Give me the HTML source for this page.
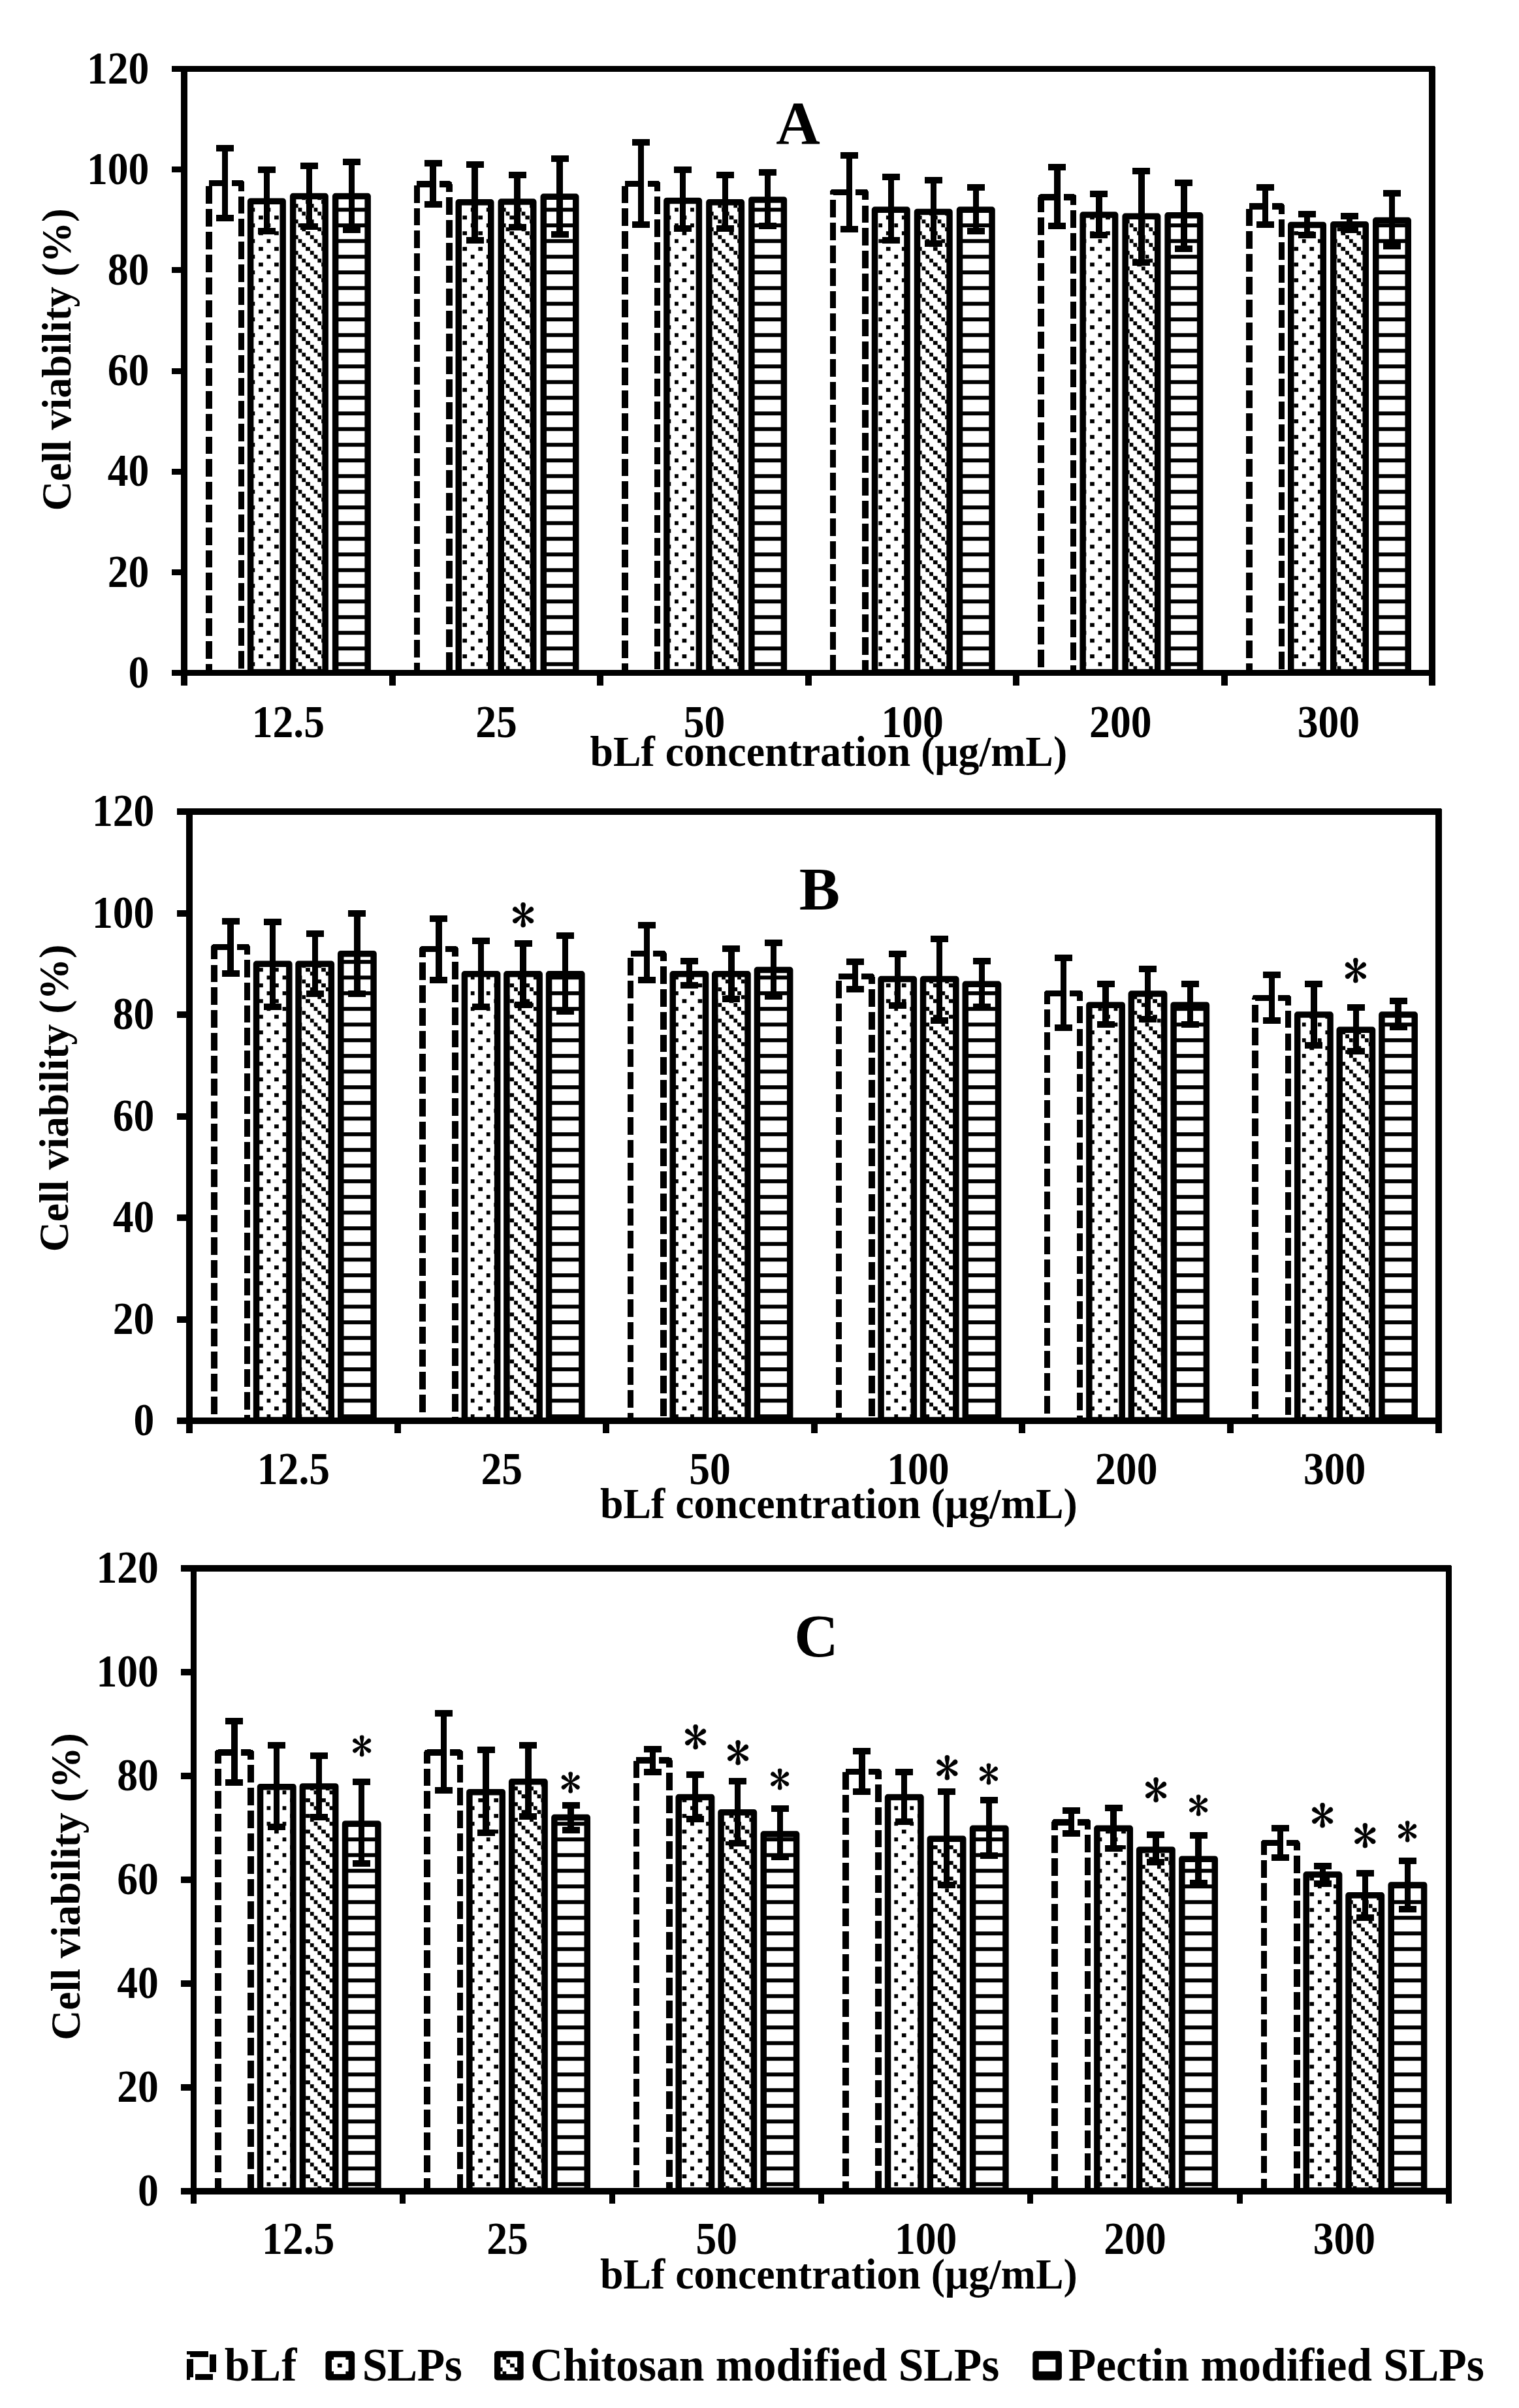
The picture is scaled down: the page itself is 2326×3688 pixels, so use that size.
<!DOCTYPE html>
<html lang="en"><head><meta charset="utf-8"><title>Cell viability vs bLf concentration</title>
<style>
html,body{margin:0;padding:0;background:#fff;}
svg{display:block;}
text{font-family:"Liberation Serif", serif;font-weight:bold;fill:#000;}
.ast{font-family:"IPAGothic", "Liberation Serif", serif;font-weight:normal;stroke:#000;stroke-width:0.9px;}
.ln{stroke:#000;fill:none;shape-rendering:crispEdges;}
.bar{stroke:#000;stroke-linejoin:round;}
</style></head><body>
<svg width="2326" height="3688" viewBox="0 0 2326 3688">
<defs>
<pattern id="pd" patternUnits="userSpaceOnUse" x="0.2" y="0.2" width="24.02" height="24"><rect width="25" height="24" fill="#fff"/><g fill="#000" shape-rendering="crispEdges"><rect x="0" y="6" width="6" height="6"/><rect x="12" y="18" width="6" height="6"/></g></pattern>
<pattern id="pg" patternUnits="userSpaceOnUse" x="0.2" y="0.2" width="24.02" height="24"><rect width="25" height="24" fill="#fff"/><g fill="#000" shape-rendering="crispEdges"><rect x="0" y="6" width="6" height="6"/><rect x="6" y="12" width="6" height="6"/><rect x="12" y="18" width="6" height="6"/><rect x="18" y="0" width="6.1" height="6"/></g></pattern>
<pattern id="ph" patternUnits="userSpaceOnUse" x="0.2" y="0.2" width="24.02" height="24"><rect width="25" height="24" fill="#fff"/><rect x="0" y="6" width="25" height="6" fill="#000" shape-rendering="crispEdges"/></pattern>
<pattern id="pdL" patternUnits="userSpaceOnUse" x="0.9" y="1.9" width="24.02" height="24"><rect width="25" height="24" fill="#fff"/><g fill="#000" shape-rendering="crispEdges"><rect x="0" y="6" width="6" height="6"/><rect x="12" y="18" width="6" height="6"/></g></pattern>
<pattern id="pgL" patternUnits="userSpaceOnUse" x="0.9" y="1.9" width="24.02" height="24"><rect width="25" height="24" fill="#fff"/><g fill="#000" shape-rendering="crispEdges"><rect x="0" y="6" width="6" height="6"/><rect x="6" y="12" width="6" height="6"/><rect x="12" y="18" width="6" height="6"/><rect x="18" y="0" width="6.1" height="6"/></g></pattern>
<pattern id="phL" patternUnits="userSpaceOnUse" x="0.9" y="1.9" width="24.02" height="24"><rect width="25" height="24" fill="#fff"/><rect x="0" y="6" width="25" height="6" fill="#000" shape-rendering="crispEdges"/></pattern>
</defs>
<rect width="2326" height="3688" fill="#fff"/>
<g id="panelA">
<rect class="ln" x="319.75" y="280.48" width="49.5" height="750.02" stroke-width="9.5" stroke-dasharray="26.8 8.03" stroke-linejoin="round"/>
<rect class="bar" x="383.65" y="308.23" width="49.5" height="721.27" fill="url(#pd)" stroke-width="9.5"/>
<rect class="bar" x="448.65" y="300.52" width="49.5" height="728.98" fill="url(#pg)" stroke-width="9.5"/>
<rect class="bar" x="513.65" y="300.52" width="49.5" height="728.98" fill="url(#ph)" stroke-width="9.5"/>
<path class="ln" stroke-width="9.4" d="M344.5 227.29V333.67"/><path class="ln" stroke-width="10" d="M331 227.29H358M331 333.67H358"/>
<path class="ln" stroke-width="9.4" d="M408.4 260.44V353.71"/><path class="ln" stroke-width="10" d="M394.9 260.44H421.9M394.9 353.71H421.9"/>
<path class="ln" stroke-width="9.4" d="M473.4 253.5V346.77"/><path class="ln" stroke-width="10" d="M459.9 253.5H486.9M459.9 346.77H486.9"/>
<path class="ln" stroke-width="9.4" d="M538.4 248.1V352.17"/><path class="ln" stroke-width="10" d="M524.9 248.1H551.9M524.9 352.17H551.9"/>
<rect class="ln" x="638.37" y="282.02" width="49.5" height="748.48" stroke-width="9.5" stroke-dasharray="26.8 8.03" stroke-linejoin="round"/>
<rect class="bar" x="702.27" y="309.77" width="49.5" height="719.73" fill="url(#pd)" stroke-width="9.5"/>
<rect class="bar" x="767.27" y="309" width="49.5" height="720.5" fill="url(#pg)" stroke-width="9.5"/>
<rect class="bar" x="832.27" y="301.29" width="49.5" height="728.21" fill="url(#ph)" stroke-width="9.5"/>
<path class="ln" stroke-width="9.4" d="M663.12 250.42V312.85"/><path class="ln" stroke-width="10" d="M649.62 250.42H676.62M649.62 312.85H676.62"/>
<path class="ln" stroke-width="9.4" d="M727.02 251.96V368.35"/><path class="ln" stroke-width="10" d="M713.52 251.96H740.52M713.52 368.35H740.52"/>
<path class="ln" stroke-width="9.4" d="M792.02 268.15V348.31"/><path class="ln" stroke-width="10" d="M778.52 268.15H805.52M778.52 348.31H805.52"/>
<path class="ln" stroke-width="9.4" d="M857.02 243.48V359.1"/><path class="ln" stroke-width="10" d="M843.52 243.48H870.52M843.52 359.1H870.52"/>
<rect class="ln" x="956.99" y="281.25" width="49.5" height="749.25" stroke-width="9.5" stroke-dasharray="26.8 8.03" stroke-linejoin="round"/>
<rect class="bar" x="1020.89" y="307.46" width="49.5" height="722.04" fill="url(#pd)" stroke-width="9.5"/>
<rect class="bar" x="1085.89" y="309.77" width="49.5" height="719.73" fill="url(#pg)" stroke-width="9.5"/>
<rect class="bar" x="1150.89" y="305.92" width="49.5" height="723.58" fill="url(#ph)" stroke-width="9.5"/>
<path class="ln" stroke-width="9.4" d="M981.74 218.04V343.69"/><path class="ln" stroke-width="10" d="M968.24 218.04H995.24M968.24 343.69H995.24"/>
<path class="ln" stroke-width="9.4" d="M1045.64 260.44V349.85"/><path class="ln" stroke-width="10" d="M1032.14 260.44H1059.14M1032.14 349.85H1059.14"/>
<path class="ln" stroke-width="9.4" d="M1110.64 268.15V349.85"/><path class="ln" stroke-width="10" d="M1097.14 268.15H1124.14M1097.14 349.85H1124.14"/>
<path class="ln" stroke-width="9.4" d="M1175.64 264.29V346"/><path class="ln" stroke-width="10" d="M1162.14 264.29H1189.14M1162.14 346H1189.14"/>
<rect class="ln" x="1275.61" y="294.35" width="49.5" height="736.15" stroke-width="9.5" stroke-dasharray="26.8 8.03" stroke-linejoin="round"/>
<rect class="bar" x="1339.51" y="321.33" width="49.5" height="708.17" fill="url(#pd)" stroke-width="9.5"/>
<rect class="bar" x="1404.51" y="324.42" width="49.5" height="705.08" fill="url(#pg)" stroke-width="9.5"/>
<rect class="bar" x="1469.51" y="321.33" width="49.5" height="708.17" fill="url(#ph)" stroke-width="9.5"/>
<path class="ln" stroke-width="9.4" d="M1300.36 238.08V351.4"/><path class="ln" stroke-width="10" d="M1286.86 238.08H1313.86M1286.86 351.4H1313.86"/>
<path class="ln" stroke-width="9.4" d="M1364.26 271.23V368.35"/><path class="ln" stroke-width="10" d="M1350.76 271.23H1377.76M1350.76 368.35H1377.76"/>
<path class="ln" stroke-width="9.4" d="M1429.26 275.85V372.98"/><path class="ln" stroke-width="10" d="M1415.76 275.85H1442.76M1415.76 372.98H1442.76"/>
<path class="ln" stroke-width="9.4" d="M1494.26 286.65V354.48"/><path class="ln" stroke-width="10" d="M1480.76 286.65H1507.76M1480.76 354.48H1507.76"/>
<rect class="ln" x="1594.23" y="302.06" width="49.5" height="728.44" stroke-width="9.5" stroke-dasharray="26.8 8.03" stroke-linejoin="round"/>
<rect class="bar" x="1658.13" y="329.04" width="49.5" height="700.46" fill="url(#pd)" stroke-width="9.5"/>
<rect class="bar" x="1723.13" y="331.35" width="49.5" height="698.15" fill="url(#pg)" stroke-width="9.5"/>
<rect class="bar" x="1788.13" y="329.81" width="49.5" height="699.69" fill="url(#ph)" stroke-width="9.5"/>
<path class="ln" stroke-width="9.4" d="M1618.98 255.81V346"/><path class="ln" stroke-width="10" d="M1605.48 255.81H1632.48M1605.48 346H1632.48"/>
<path class="ln" stroke-width="9.4" d="M1682.88 296.67V359.88"/><path class="ln" stroke-width="10" d="M1669.38 296.67H1696.38M1669.38 359.88H1696.38"/>
<path class="ln" stroke-width="9.4" d="M1747.88 261.98V401.5"/><path class="ln" stroke-width="10" d="M1734.38 261.98H1761.38M1734.38 401.5H1761.38"/>
<path class="ln" stroke-width="9.4" d="M1812.88 279.71V380.69"/><path class="ln" stroke-width="10" d="M1799.38 279.71H1826.38M1799.38 380.69H1826.38"/>
<rect class="ln" x="1912.85" y="315.94" width="49.5" height="714.56" stroke-width="9.5" stroke-dasharray="26.8 8.03" stroke-linejoin="round"/>
<rect class="bar" x="1976.75" y="344.46" width="49.5" height="685.04" fill="url(#pd)" stroke-width="9.5"/>
<rect class="bar" x="2041.75" y="343.69" width="49.5" height="685.81" fill="url(#pg)" stroke-width="9.5"/>
<rect class="bar" x="2106.75" y="337.52" width="49.5" height="691.98" fill="url(#ph)" stroke-width="9.5"/>
<path class="ln" stroke-width="9.4" d="M1937.6 286.65V344.46"/><path class="ln" stroke-width="10" d="M1924.1 286.65H1951.1M1924.1 344.46H1951.1"/>
<path class="ln" stroke-width="9.4" d="M2001.5 328.27V359.88"/><path class="ln" stroke-width="10" d="M1988 328.27H2015M1988 359.88H2015"/>
<path class="ln" stroke-width="9.4" d="M2066.5 331.35V352.17"/><path class="ln" stroke-width="10" d="M2053 331.35H2080M2053 352.17H2080"/>
<path class="ln" stroke-width="9.4" d="M2131.5 295.9V376.83"/><path class="ln" stroke-width="10" d="M2118 295.9H2145M2118 376.83H2145"/>
<path class="ln" stroke-width="10" d="M282 101V1050M2193 102V1050"/>
<path class="ln" stroke-width="9" d="M262.5 105.5H2197M262.5 1030.5H2193"/>
<path class="ln" stroke-width="9" d="M262.5 876.33H282M262.5 722.17H282M262.5 568H282M262.5 413.83H282M262.5 259.67H282"/>
<path class="ln" stroke-width="10" d="M600.62 1030.5V1050M919.24 1030.5V1050M1237.86 1030.5V1050M1556.48 1030.5V1050M1875.1 1030.5V1050"/>
<text transform="translate(228.4 1052.7) scale(1 1.08)" font-size="63.6" text-anchor="end">0</text>
<text transform="translate(228.4 898.53) scale(1 1.08)" font-size="63.6" text-anchor="end">20</text>
<text transform="translate(228.4 744.37) scale(1 1.08)" font-size="63.6" text-anchor="end">40</text>
<text transform="translate(228.4 590.2) scale(1 1.08)" font-size="63.6" text-anchor="end">60</text>
<text transform="translate(228.4 436.03) scale(1 1.08)" font-size="63.6" text-anchor="end">80</text>
<text transform="translate(228.4 281.87) scale(1 1.08)" font-size="63.6" text-anchor="end">100</text>
<text transform="translate(228.4 127.7) scale(1 1.08)" font-size="63.6" text-anchor="end">120</text>
<text transform="translate(441.31 1129.2) scale(1 1.08)" font-size="63.6" text-anchor="middle">12.5</text>
<text transform="translate(759.93 1129.2) scale(1 1.08)" font-size="63.6" text-anchor="middle">25</text>
<text transform="translate(1078.55 1129.2) scale(1 1.08)" font-size="63.6" text-anchor="middle">50</text>
<text transform="translate(1397.17 1129.2) scale(1 1.08)" font-size="63.6" text-anchor="middle">100</text>
<text transform="translate(1715.79 1129.2) scale(1 1.08)" font-size="63.6" text-anchor="middle">200</text>
<text transform="translate(2034.41 1129.2) scale(1 1.08)" font-size="63.6" text-anchor="middle">300</text>
<text transform="translate(903.4 1172.7) scale(1 1.02)" font-size="63.8">bLf concentration (μg/mL)</text>
<text transform="translate(108 550.6) rotate(-90)" font-size="62.7" text-anchor="middle">Cell viability (%)</text>
<text x="1188.3" y="220" font-size="93.5">A</text>
</g>
<g id="panelB">
<rect class="ln" x="327.95" y="1450.59" width="50.3" height="725.41" stroke-width="9.5" stroke-dasharray="26.8 8.03" stroke-linejoin="round"/>
<rect class="bar" x="392.55" y="1476.25" width="50.3" height="698.75" fill="url(#pd)" stroke-width="9.5"/>
<rect class="bar" x="457.05" y="1476.25" width="50.3" height="698.75" fill="url(#pg)" stroke-width="9.5"/>
<rect class="bar" x="521.75" y="1460.7" width="50.3" height="714.3" fill="url(#ph)" stroke-width="9.5"/>
<path class="ln" stroke-width="9.4" d="M353.1 1410.94V1491.02"/><path class="ln" stroke-width="10" d="M339.6 1410.94H366.6M339.6 1491.02H366.6"/>
<path class="ln" stroke-width="9.4" d="M417.7 1411.72V1541.56"/><path class="ln" stroke-width="10" d="M404.2 1411.72H431.2M404.2 1541.56H431.2"/>
<path class="ln" stroke-width="9.4" d="M482.2 1429.6V1522.12"/><path class="ln" stroke-width="10" d="M468.7 1429.6H495.7M468.7 1522.12H495.7"/>
<path class="ln" stroke-width="9.4" d="M546.9 1398.5V1522.12"/><path class="ln" stroke-width="10" d="M533.4 1398.5H560.4M533.4 1522.12H560.4"/>
<rect class="ln" x="646.78" y="1453.7" width="50.3" height="722.3" stroke-width="9.5" stroke-dasharray="26.8 8.03" stroke-linejoin="round"/>
<rect class="bar" x="711.38" y="1491.8" width="50.3" height="683.2" fill="url(#pd)" stroke-width="9.5"/>
<rect class="bar" x="775.88" y="1491.8" width="50.3" height="683.2" fill="url(#pg)" stroke-width="9.5"/>
<rect class="bar" x="840.58" y="1491.8" width="50.3" height="683.2" fill="url(#ph)" stroke-width="9.5"/>
<path class="ln" stroke-width="9.4" d="M671.93 1407.05V1501.13"/><path class="ln" stroke-width="10" d="M658.43 1407.05H685.43M658.43 1501.13H685.43"/>
<path class="ln" stroke-width="9.4" d="M736.53 1441.26V1541.56"/><path class="ln" stroke-width="10" d="M723.03 1441.26H750.03M723.03 1541.56H750.03"/>
<path class="ln" stroke-width="9.4" d="M801.03 1445.15V1539.23"/><path class="ln" stroke-width="10" d="M787.53 1445.15H814.53M787.53 1539.23H814.53"/>
<path class="ln" stroke-width="9.4" d="M865.73 1433.49V1549.34"/><path class="ln" stroke-width="10" d="M852.23 1433.49H879.23M852.23 1549.34H879.23"/>
<rect class="ln" x="965.62" y="1460.7" width="50.3" height="715.3" stroke-width="9.5" stroke-dasharray="26.8 8.03" stroke-linejoin="round"/>
<rect class="bar" x="1030.22" y="1491.8" width="50.3" height="683.2" fill="url(#pd)" stroke-width="9.5"/>
<rect class="bar" x="1094.72" y="1491.8" width="50.3" height="683.2" fill="url(#pg)" stroke-width="9.5"/>
<rect class="bar" x="1159.42" y="1485.58" width="50.3" height="689.42" fill="url(#ph)" stroke-width="9.5"/>
<path class="ln" stroke-width="9.4" d="M990.77 1417.16V1501.13"/><path class="ln" stroke-width="10" d="M977.27 1417.16H1004.27M977.27 1501.13H1004.27"/>
<path class="ln" stroke-width="9.4" d="M1055.37 1472.36V1508.9"/><path class="ln" stroke-width="10" d="M1041.87 1472.36H1068.87M1041.87 1508.9H1068.87"/>
<path class="ln" stroke-width="9.4" d="M1119.87 1452.92V1529.9"/><path class="ln" stroke-width="10" d="M1106.37 1452.92H1133.37M1106.37 1529.9H1133.37"/>
<path class="ln" stroke-width="9.4" d="M1184.57 1443.59V1526.01"/><path class="ln" stroke-width="10" d="M1171.07 1443.59H1198.07M1171.07 1526.01H1198.07"/>
<rect class="ln" x="1284.45" y="1495.69" width="50.3" height="680.31" stroke-width="9.5" stroke-dasharray="26.8 8.03" stroke-linejoin="round"/>
<rect class="bar" x="1349.05" y="1499.57" width="50.3" height="675.43" fill="url(#pd)" stroke-width="9.5"/>
<rect class="bar" x="1413.55" y="1499.57" width="50.3" height="675.43" fill="url(#pg)" stroke-width="9.5"/>
<rect class="bar" x="1478.25" y="1507.35" width="50.3" height="667.65" fill="url(#ph)" stroke-width="9.5"/>
<path class="ln" stroke-width="9.4" d="M1309.6 1473.14V1515.12"/><path class="ln" stroke-width="10" d="M1296.1 1473.14H1323.1M1296.1 1515.12H1323.1"/>
<path class="ln" stroke-width="9.4" d="M1374.2 1461.48V1540.01"/><path class="ln" stroke-width="10" d="M1360.7 1461.48H1387.7M1360.7 1540.01H1387.7"/>
<path class="ln" stroke-width="9.4" d="M1438.7 1438.15V1562.55"/><path class="ln" stroke-width="10" d="M1425.2 1438.15H1452.2M1425.2 1562.55H1452.2"/>
<path class="ln" stroke-width="9.4" d="M1503.4 1471.59V1542.34"/><path class="ln" stroke-width="10" d="M1489.9 1471.59H1516.9M1489.9 1542.34H1516.9"/>
<rect class="ln" x="1603.28" y="1521.34" width="50.3" height="654.66" stroke-width="9.5" stroke-dasharray="26.8 8.03" stroke-linejoin="round"/>
<rect class="bar" x="1667.88" y="1539.23" width="50.3" height="635.77" fill="url(#pd)" stroke-width="9.5"/>
<rect class="bar" x="1732.38" y="1522.12" width="50.3" height="652.88" fill="url(#pg)" stroke-width="9.5"/>
<rect class="bar" x="1797.08" y="1539.23" width="50.3" height="635.77" fill="url(#ph)" stroke-width="9.5"/>
<path class="ln" stroke-width="9.4" d="M1628.43 1466.92V1574.21"/><path class="ln" stroke-width="10" d="M1614.93 1466.92H1641.93M1614.93 1574.21H1641.93"/>
<path class="ln" stroke-width="9.4" d="M1693.03 1506.57V1568.77"/><path class="ln" stroke-width="10" d="M1679.53 1506.57H1706.53M1679.53 1568.77H1706.53"/>
<path class="ln" stroke-width="9.4" d="M1757.53 1484.03V1561"/><path class="ln" stroke-width="10" d="M1744.03 1484.03H1771.03M1744.03 1561H1771.03"/>
<path class="ln" stroke-width="9.4" d="M1822.23 1506.57V1568.77"/><path class="ln" stroke-width="10" d="M1808.73 1506.57H1835.73M1808.73 1568.77H1835.73"/>
<rect class="ln" x="1922.12" y="1528.34" width="50.3" height="647.66" stroke-width="9.5" stroke-dasharray="26.8 8.03" stroke-linejoin="round"/>
<rect class="bar" x="1986.72" y="1554" width="50.3" height="621" fill="url(#pd)" stroke-width="9.5"/>
<rect class="bar" x="2051.22" y="1577.32" width="50.3" height="597.68" fill="url(#pg)" stroke-width="9.5"/>
<rect class="bar" x="2115.92" y="1554" width="50.3" height="621" fill="url(#ph)" stroke-width="9.5"/>
<path class="ln" stroke-width="9.4" d="M1947.27 1493.36V1563.33"/><path class="ln" stroke-width="10" d="M1933.77 1493.36H1960.77M1933.77 1563.33H1960.77"/>
<path class="ln" stroke-width="9.4" d="M2011.87 1507.35V1600.65"/><path class="ln" stroke-width="10" d="M1998.37 1507.35H2025.37M1998.37 1600.65H2025.37"/>
<path class="ln" stroke-width="9.4" d="M2076.37 1543.11V1609.98"/><path class="ln" stroke-width="10" d="M2062.87 1543.11H2089.87M2062.87 1609.98H2089.87"/>
<path class="ln" stroke-width="9.4" d="M2141.07 1533.01V1572.66"/><path class="ln" stroke-width="10" d="M2127.57 1533.01H2154.57M2127.57 1572.66H2154.57"/>
<path class="ln" stroke-width="10" d="M290 1238V2195M2203 1239V2195"/>
<path class="ln" stroke-width="10" d="M271 1243H2207M271 2176H2203"/>
<path class="ln" stroke-width="10" d="M271 2020.5H290M271 1865H290M271 1709.5H290M271 1554H290M271 1398.5H290"/>
<path class="ln" stroke-width="10" d="M608.83 2176V2195M927.67 2176V2195M1246.5 2176V2195M1565.33 2176V2195M1884.17 2176V2195"/>
<text transform="translate(236.4 2198.2) scale(1 1.08)" font-size="63.6" text-anchor="end">0</text>
<text transform="translate(236.4 2042.7) scale(1 1.08)" font-size="63.6" text-anchor="end">20</text>
<text transform="translate(236.4 1887.2) scale(1 1.08)" font-size="63.6" text-anchor="end">40</text>
<text transform="translate(236.4 1731.7) scale(1 1.08)" font-size="63.6" text-anchor="end">60</text>
<text transform="translate(236.4 1576.2) scale(1 1.08)" font-size="63.6" text-anchor="end">80</text>
<text transform="translate(236.4 1420.7) scale(1 1.08)" font-size="63.6" text-anchor="end">100</text>
<text transform="translate(236.4 1265.2) scale(1 1.08)" font-size="63.6" text-anchor="end">120</text>
<text transform="translate(449.42 2273.2) scale(1 1.08)" font-size="63.6" text-anchor="middle">12.5</text>
<text transform="translate(768.25 2273.2) scale(1 1.08)" font-size="63.6" text-anchor="middle">25</text>
<text transform="translate(1087.08 2273.2) scale(1 1.08)" font-size="63.6" text-anchor="middle">50</text>
<text transform="translate(1405.92 2273.2) scale(1 1.08)" font-size="63.6" text-anchor="middle">100</text>
<text transform="translate(1724.75 2273.2) scale(1 1.08)" font-size="63.6" text-anchor="middle">200</text>
<text transform="translate(2043.58 2273.2) scale(1 1.08)" font-size="63.6" text-anchor="middle">300</text>
<text transform="translate(919 2324.9) scale(1 1.02)" font-size="63.8">bLf concentration (μg/mL)</text>
<text transform="translate(104.2 1681.9) rotate(-90)" font-size="63.7" text-anchor="middle">Cell viability (%)</text>
<text x="1223.8" y="1392.9" font-size="93.5">B</text>
<text class="ast" x="801.05" y="1429.89" font-size="74.6" text-anchor="middle">*</text>
<text class="ast" x="2075.9" y="1514.99" font-size="74.6" text-anchor="middle">*</text>
</g>
<g id="panelC">
<rect class="ln" x="333.75" y="2684.22" width="50.4" height="671.78" stroke-width="9.5" stroke-dasharray="26.8 8.03" stroke-linejoin="round"/>
<rect class="bar" x="398.55" y="2736.69" width="50.4" height="618.31" fill="url(#pd)" stroke-width="9.5"/>
<rect class="bar" x="463.35" y="2735.9" width="50.4" height="619.1" fill="url(#pg)" stroke-width="9.5"/>
<rect class="bar" x="528.55" y="2793.14" width="50.4" height="561.86" fill="url(#ph)" stroke-width="9.5"/>
<path class="ln" stroke-width="9.4" d="M358.95 2635.73V2730.34"/><path class="ln" stroke-width="10" d="M345.45 2635.73H372.45M345.45 2730.34H372.45"/>
<path class="ln" stroke-width="9.4" d="M423.75 2673.09V2797.91"/><path class="ln" stroke-width="10" d="M410.25 2673.09H437.25M410.25 2797.91H437.25"/>
<path class="ln" stroke-width="9.4" d="M488.55 2688.99V2782.81"/><path class="ln" stroke-width="10" d="M475.05 2688.99H502.05M475.05 2782.81H502.05"/>
<path class="ln" stroke-width="9.4" d="M553.75 2728.74V2854.36"/><path class="ln" stroke-width="10" d="M540.25 2728.74H567.25M540.25 2854.36H567.25"/>
<rect class="ln" x="654.08" y="2684.22" width="50.4" height="671.78" stroke-width="9.5" stroke-dasharray="26.8 8.03" stroke-linejoin="round"/>
<rect class="bar" x="718.88" y="2744.64" width="50.4" height="610.36" fill="url(#pd)" stroke-width="9.5"/>
<rect class="bar" x="783.68" y="2728.74" width="50.4" height="626.26" fill="url(#pg)" stroke-width="9.5"/>
<rect class="bar" x="848.88" y="2783.6" width="50.4" height="571.4" fill="url(#ph)" stroke-width="9.5"/>
<path class="ln" stroke-width="9.4" d="M679.28 2623.81V2742.26"/><path class="ln" stroke-width="10" d="M665.78 2623.81H692.78M665.78 2742.26H692.78"/>
<path class="ln" stroke-width="9.4" d="M744.08 2680.25V2807.45"/><path class="ln" stroke-width="10" d="M730.58 2680.25H757.58M730.58 2807.45H757.58"/>
<path class="ln" stroke-width="9.4" d="M808.88 2673.09V2782.01"/><path class="ln" stroke-width="10" d="M795.38 2673.09H822.38M795.38 2782.01H822.38"/>
<path class="ln" stroke-width="9.4" d="M874.08 2765.32V2802.68"/><path class="ln" stroke-width="10" d="M860.58 2765.32H887.58M860.58 2802.68H887.58"/>
<rect class="ln" x="974.42" y="2696.15" width="50.4" height="659.85" stroke-width="9.5" stroke-dasharray="26.8 8.03" stroke-linejoin="round"/>
<rect class="bar" x="1039.22" y="2752.59" width="50.4" height="602.41" fill="url(#pd)" stroke-width="9.5"/>
<rect class="bar" x="1104.02" y="2775.65" width="50.4" height="579.35" fill="url(#pg)" stroke-width="9.5"/>
<rect class="bar" x="1169.22" y="2809.04" width="50.4" height="545.96" fill="url(#ph)" stroke-width="9.5"/>
<path class="ln" stroke-width="9.4" d="M999.62 2678.66V2713.64"/><path class="ln" stroke-width="10" d="M986.12 2678.66H1013.12M986.12 2713.64H1013.12"/>
<path class="ln" stroke-width="9.4" d="M1064.42 2717.61V2785.99"/><path class="ln" stroke-width="10" d="M1050.92 2717.61H1077.92M1050.92 2785.99H1077.92"/>
<path class="ln" stroke-width="9.4" d="M1129.22 2727.95V2822.56"/><path class="ln" stroke-width="10" d="M1115.72 2727.95H1142.72M1115.72 2822.56H1142.72"/>
<path class="ln" stroke-width="9.4" d="M1194.42 2770.09V2844.02"/><path class="ln" stroke-width="10" d="M1180.92 2770.09H1207.92M1180.92 2844.02H1207.92"/>
<rect class="ln" x="1294.75" y="2713.64" width="50.4" height="642.36" stroke-width="9.5" stroke-dasharray="26.8 8.03" stroke-linejoin="round"/>
<rect class="bar" x="1359.55" y="2752.59" width="50.4" height="602.41" fill="url(#pd)" stroke-width="9.5"/>
<rect class="bar" x="1424.35" y="2816.19" width="50.4" height="538.81" fill="url(#pg)" stroke-width="9.5"/>
<rect class="bar" x="1489.55" y="2800.3" width="50.4" height="554.7" fill="url(#ph)" stroke-width="9.5"/>
<path class="ln" stroke-width="9.4" d="M1319.95 2681.84V2743.85"/><path class="ln" stroke-width="10" d="M1306.45 2681.84H1333.45M1306.45 2743.85H1333.45"/>
<path class="ln" stroke-width="9.4" d="M1384.75 2714.43V2789.96"/><path class="ln" stroke-width="10" d="M1371.25 2714.43H1398.25M1371.25 2789.96H1398.25"/>
<path class="ln" stroke-width="9.4" d="M1449.55 2743.85V2886.95"/><path class="ln" stroke-width="10" d="M1436.05 2743.85H1463.05M1436.05 2886.95H1463.05"/>
<path class="ln" stroke-width="9.4" d="M1514.75 2757.36V2842.43"/><path class="ln" stroke-width="10" d="M1501.25 2757.36H1528.25M1501.25 2842.43H1528.25"/>
<rect class="ln" x="1615.08" y="2790.76" width="50.4" height="565.24" stroke-width="9.5" stroke-dasharray="26.8 8.03" stroke-linejoin="round"/>
<rect class="bar" x="1679.88" y="2800.3" width="50.4" height="554.7" fill="url(#pd)" stroke-width="9.5"/>
<rect class="bar" x="1744.68" y="2832.89" width="50.4" height="522.11" fill="url(#pg)" stroke-width="9.5"/>
<rect class="bar" x="1809.88" y="2847.2" width="50.4" height="507.8" fill="url(#ph)" stroke-width="9.5"/>
<path class="ln" stroke-width="9.4" d="M1640.28 2773.26V2808.24"/><path class="ln" stroke-width="10" d="M1626.78 2773.26H1653.78M1626.78 2808.24H1653.78"/>
<path class="ln" stroke-width="9.4" d="M1705.08 2769.29V2830.51"/><path class="ln" stroke-width="10" d="M1691.58 2769.29H1718.58M1691.58 2830.51H1718.58"/>
<path class="ln" stroke-width="9.4" d="M1769.88 2809.84V2851.97"/><path class="ln" stroke-width="10" d="M1756.38 2809.84H1783.38M1756.38 2851.97H1783.38"/>
<path class="ln" stroke-width="9.4" d="M1835.08 2811.43V2883.77"/><path class="ln" stroke-width="10" d="M1821.58 2811.43H1848.58M1821.58 2883.77H1848.58"/>
<rect class="ln" x="1935.42" y="2822.56" width="50.4" height="533.44" stroke-width="9.5" stroke-dasharray="26.8 8.03" stroke-linejoin="round"/>
<rect class="bar" x="2000.22" y="2871.05" width="50.4" height="483.95" fill="url(#pd)" stroke-width="9.5"/>
<rect class="bar" x="2065.02" y="2902.85" width="50.4" height="452.15" fill="url(#pg)" stroke-width="9.5"/>
<rect class="bar" x="2130.22" y="2886.95" width="50.4" height="468.05" fill="url(#ph)" stroke-width="9.5"/>
<path class="ln" stroke-width="9.4" d="M1960.62 2799.5V2844.82"/><path class="ln" stroke-width="10" d="M1947.12 2799.5H1974.12M1947.12 2844.82H1974.12"/>
<path class="ln" stroke-width="9.4" d="M2025.42 2857.53V2885.36"/><path class="ln" stroke-width="10" d="M2011.92 2857.53H2038.92M2011.92 2885.36H2038.92"/>
<path class="ln" stroke-width="9.4" d="M2090.22 2868.66V2937.03"/><path class="ln" stroke-width="10" d="M2076.72 2868.66H2103.72M2076.72 2937.03H2103.72"/>
<path class="ln" stroke-width="9.4" d="M2155.42 2849.59V2923.52"/><path class="ln" stroke-width="10" d="M2141.92 2849.59H2168.92M2141.92 2923.52H2168.92"/>
<path class="ln" stroke-width="9" d="M296.5 2397V3375M2218.5 2398V3375"/>
<path class="ln" stroke-width="10" d="M277 2402H2222M277 3356H2218.5"/>
<path class="ln" stroke-width="10" d="M277 3197H296.5M277 3038H296.5M277 2879H296.5M277 2720H296.5M277 2561H296.5"/>
<path class="ln" stroke-width="9" d="M616.83 3356V3375M937.17 3356V3375M1257.5 3356V3375M1577.83 3356V3375M1898.17 3356V3375"/>
<text transform="translate(242.9 3378.2) scale(1 1.08)" font-size="63.6" text-anchor="end">0</text>
<text transform="translate(242.9 3219.2) scale(1 1.08)" font-size="63.6" text-anchor="end">20</text>
<text transform="translate(242.9 3060.2) scale(1 1.08)" font-size="63.6" text-anchor="end">40</text>
<text transform="translate(242.9 2901.2) scale(1 1.08)" font-size="63.6" text-anchor="end">60</text>
<text transform="translate(242.9 2742.2) scale(1 1.08)" font-size="63.6" text-anchor="end">80</text>
<text transform="translate(242.9 2583.2) scale(1 1.08)" font-size="63.6" text-anchor="end">100</text>
<text transform="translate(242.9 2424.2) scale(1 1.08)" font-size="63.6" text-anchor="end">120</text>
<text transform="translate(456.67 3452.2) scale(1 1.08)" font-size="63.6" text-anchor="middle">12.5</text>
<text transform="translate(777 3452.2) scale(1 1.08)" font-size="63.6" text-anchor="middle">25</text>
<text transform="translate(1097.33 3452.2) scale(1 1.08)" font-size="63.6" text-anchor="middle">50</text>
<text transform="translate(1417.67 3452.2) scale(1 1.08)" font-size="63.6" text-anchor="middle">100</text>
<text transform="translate(1738 3452.2) scale(1 1.08)" font-size="63.6" text-anchor="middle">200</text>
<text transform="translate(2058.33 3452.2) scale(1 1.08)" font-size="63.6" text-anchor="middle">300</text>
<text transform="translate(919 3504.9) scale(1 1.02)" font-size="63.8">bLf concentration (μg/mL)</text>
<text transform="translate(121.7 2889.5) rotate(-90)" font-size="63.7" text-anchor="middle">Cell viability (%)</text>
<text x="1216.3" y="2537.1" font-size="93.5">C</text>
<text class="ast" x="554.2" y="2698.02" font-size="64.8" text-anchor="middle">*</text>
<text class="ast" x="873.6" y="2753.82" font-size="64.8" text-anchor="middle">*</text>
<text class="ast" x="1065.1" y="2689.09" font-size="74.6" text-anchor="middle">*</text>
<text class="ast" x="1130.2" y="2712.89" font-size="74.6" text-anchor="middle">*</text>
<text class="ast" x="1194.2" y="2748.57" font-size="64.8" text-anchor="middle">*</text>
<text class="ast" x="1450.4" y="2735.89" font-size="74.6" text-anchor="middle">*</text>
<text class="ast" x="1514" y="2741.02" font-size="64.8" text-anchor="middle">*</text>
<text class="ast" x="1770.2" y="2769.74" font-size="74.6" text-anchor="middle">*</text>
<text class="ast" x="1835.1" y="2788.82" font-size="64.8" text-anchor="middle">*</text>
<text class="ast" x="2025.2" y="2808.69" font-size="74.6" text-anchor="middle">*</text>
<text class="ast" x="2090.5" y="2840.29" font-size="74.6" text-anchor="middle">*</text>
<text class="ast" x="2155.2" y="2829.22" font-size="64.8" text-anchor="middle">*</text>
</g>
<g id="legend">
<rect class="ln" x="291.05" y="3605.55" width="35.1" height="35.1" stroke-width="9.5" stroke-dasharray="27.6 7.5"/>
<text transform="translate(343.8 3645.6) scale(1 1.04)" font-size="69.5" letter-spacing="1.2">bLf</text>
<rect class="bar" x="503.25" y="3605.55" width="35.1" height="35.1" fill="url(#pdL)" stroke-width="9.5"/>
<text transform="translate(554.7 3645.6) scale(1 1.04)" font-size="69.5" letter-spacing="-0.5">SLPs</text>
<rect class="bar" x="761.75" y="3605.55" width="35.1" height="35.1" fill="url(#pgL)" stroke-width="9.5"/>
<text transform="translate(812 3645.6) scale(1 1.04)" font-size="69.5">Chitosan modified SLPs</text>
<rect class="bar" x="1586.05" y="3605.55" width="35.1" height="35.1" fill="url(#phL)" stroke-width="9.5"/>
<text transform="translate(1635.8 3645.6) scale(1 1.04)" font-size="69.5">Pectin modified SLPs</text>
</g>
</svg>
</body></html>
